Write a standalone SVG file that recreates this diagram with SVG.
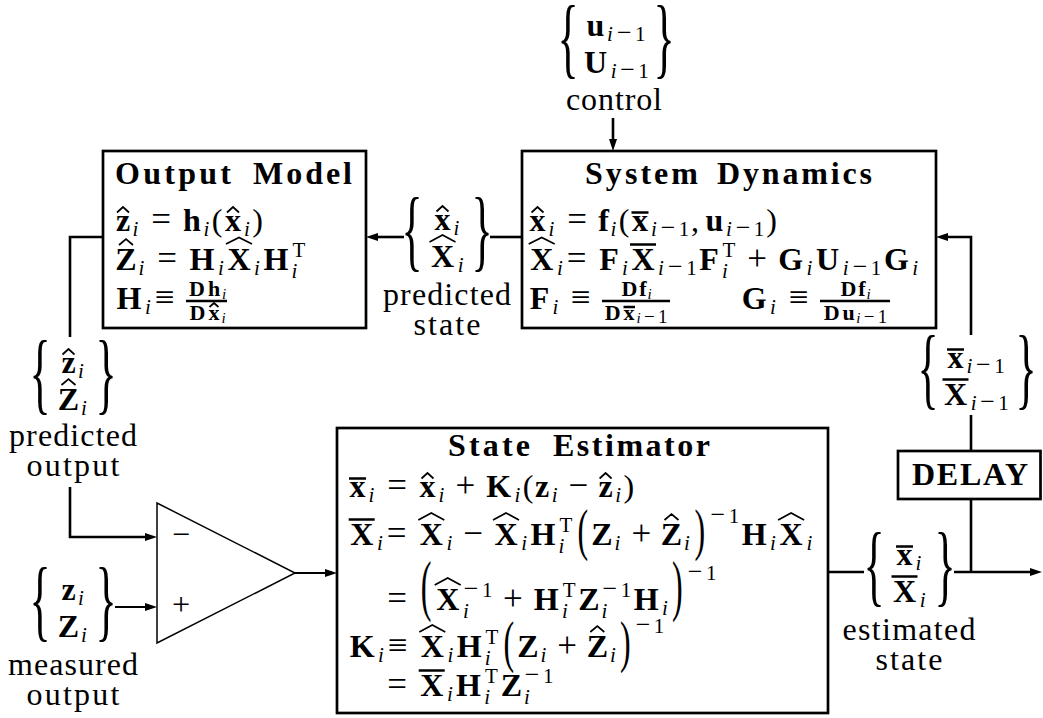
<svg xmlns="http://www.w3.org/2000/svg" width="1043" height="718" viewBox="0 0 1043 718" font-family="'Liberation Serif', 'DejaVu Serif', serif">
<defs>
<style>
.m,.s,.r,.rm,.o,.p,.fm,.fs,.fr,.t,.lb,.br{font-family:"Liberation Serif","DejaVu Serif","Times New Roman",serif;fill:#000}
.m{font-weight:bold;font-size:32px;text-anchor:middle}
.s{font-style:italic;font-size:21px;text-anchor:middle}
.r{font-size:21px;text-anchor:middle}
.rm{font-size:26px;text-anchor:middle}
.o{font-size:35px;text-anchor:middle}
.p{font-size:32px;text-anchor:middle}
.fm{font-weight:bold;font-size:22px;text-anchor:middle}
.fs{font-style:italic;font-size:15px;text-anchor:middle}
.fr{font-size:19px;text-anchor:middle}
.t{font-weight:bold;font-size:32px}
.lb{font-size:32px;text-anchor:middle}
.br{font-size:44px;text-anchor:middle}
.box{fill:none;stroke:#000;stroke-width:2.7}
.ln{fill:none;stroke:#000;stroke-width:2.6}
.thin{stroke-width:1.9}
.hat{fill:none;stroke:#000;stroke-width:1.7}
.bar{stroke:#000;stroke-width:2.5}
.fb{stroke:#000;stroke-width:2.3}
</style>
<marker id="ah" markerUnits="userSpaceOnUse" markerWidth="12" markerHeight="9" refX="6" refY="4.5" orient="auto">
<path d="M0,0.5 L12,4.5 L0,8.5 Z" fill="#000"/>
</marker>
</defs>
<rect width="1043" height="718" fill="#fff"/>

<!-- connectors -->
<g id="connectors">
<line class="ln" x1="613" y1="118" x2="613" y2="145" marker-end="url(#ah)"/>
<line class="ln" x1="522" y1="237" x2="490" y2="237"/>
<line class="ln" x1="404" y1="237" x2="372" y2="237" marker-end="url(#ah)"/>
<polyline class="ln" points="103,237 70,237 70,337"/>
<polyline class="ln" points="70,487 70,537 151,537" marker-end="url(#ah)"/>
<line class="ln thin" x1="115" y1="607" x2="151" y2="607" marker-end="url(#ah)"/>
<line class="ln thin" x1="295" y1="573" x2="331" y2="573" marker-end="url(#ah)"/>
<line class="ln" x1="828" y1="572" x2="864" y2="572"/>
<line class="ln" x1="954" y1="572" x2="1036" y2="572" marker-end="url(#ah)"/>
<line class="ln" x1="971" y1="572" x2="971" y2="499"/>
<line class="ln" x1="971" y1="451" x2="971" y2="415"/>
<polyline class="ln" points="971,335 971,237 942,237" marker-end="url(#ah)"/>
</g>

<!-- control input -->
<g id="control-input">
<text class="br" transform="translate(568,45) scale(1,2.0)" y="11.2">{</text>
<text class="br" transform="translate(664,45) scale(1,2.0)" y="11.2">}</text>
<text><tspan class="m" x="595.5" y="36">u</tspan><tspan class="s" x="610" y="41">i</tspan><tspan class="rm" x="624.3" y="41">−</tspan><tspan class="r" x="640.3" y="41">1</tspan></text>
<text><tspan class="m" x="595.5" y="73">U</tspan><tspan class="s" x="613.7" y="78">i</tspan><tspan class="rm" x="627.5" y="78">−</tspan><tspan class="r" x="643.5" y="78">1</tspan></text>
<text class="lb" x="614" y="110" textLength="96" lengthAdjust="spacing">control</text>
</g>

<!-- output model -->
<g id="output-model">
<rect class="box" x="103" y="151" width="263" height="177"/>
<text class="t" x="115" y="184" textLength="116" lengthAdjust="spacing">Output</text>
<text class="t" x="253" y="184" textLength="99" lengthAdjust="spacing">Model</text>
<text><tspan class="m" x="123" y="231">z</tspan><tspan class="s" x="135.5" y="236">i</tspan><tspan class="o" x="161" y="231">=</tspan><tspan class="m" x="192" y="231">h</tspan><tspan class="s" x="206.5" y="236">i</tspan><tspan class="p" x="217" y="231">(</tspan><tspan class="m" x="233" y="231">x</tspan><tspan class="s" x="247" y="236">i</tspan><tspan class="p" x="257.5" y="231">)</tspan></text>
<path class="hat" d="M117,212.5 L123,207 L129,212.5 M227,212.5 L233,207 L239,212.5"/>
<text><tspan class="m" x="126" y="270">Z</tspan><tspan class="s" x="141.5" y="275">i</tspan><tspan class="o" x="167" y="270">=</tspan><tspan class="m" x="202" y="270">H</tspan><tspan class="s" x="221" y="275">i</tspan><tspan class="m" x="239" y="270">X</tspan><tspan class="s" x="257" y="275">i</tspan><tspan class="m" x="276" y="270">H</tspan><tspan class="s" x="294.5" y="278">i</tspan><tspan class="r" x="299" y="257">T</tspan></text>
<path class="hat" d="M119,245 L126,239 L133,245 M226,244 L239,237.5 L252,244"/>
<text><tspan class="m" x="129" y="309">H</tspan><tspan class="s" x="148" y="314">i</tspan><tspan class="o" x="164.5" y="309">≡</tspan><tspan class="fm" x="197" y="296">D</tspan><tspan class="fm" x="214" y="296">h</tspan><tspan class="fs" x="224" y="299">i</tspan><tspan class="fm" x="197.5" y="320">D</tspan><tspan class="fm" x="214" y="320">x</tspan><tspan class="fs" x="223.5" y="323">i</tspan></text>
<line class="fb" x1="186" y1="301" x2="227" y2="301"/>
<path class="hat" d="M209.5,307 L214,303 L218.5,307"/>
</g>

<!-- system dynamics -->
<g id="system-dynamics">
<rect class="box" x="522" y="151" width="414" height="177"/>
<text class="t" x="585" y="184" textLength="113" lengthAdjust="spacing">System</text>
<text class="t" x="717" y="184" textLength="155" lengthAdjust="spacing">Dynamics</text>
<text><tspan class="m" x="537.5" y="231">x</tspan><tspan class="s" x="551.5" y="236">i</tspan><tspan class="o" x="577" y="231">=</tspan><tspan class="m" x="603.5" y="231">f</tspan><tspan class="s" x="613.5" y="236">i</tspan><tspan class="p" x="624" y="231">(</tspan><tspan class="m" x="640" y="231">x</tspan><tspan class="s" x="654" y="236">i</tspan><tspan class="rm" x="668" y="236">−</tspan><tspan class="r" x="684" y="236">1</tspan><tspan class="p" x="695" y="231">,</tspan><tspan class="m" x="714.5" y="231">u</tspan><tspan class="s" x="729" y="236">i</tspan><tspan class="rm" x="743" y="236">−</tspan><tspan class="r" x="759" y="236">1</tspan><tspan class="p" x="771.7" y="231">)</tspan></text>
<path class="hat" d="M531.5,212.5 L537.5,207 L543.5,212.5"/>
<line class="bar" x1="631.5" y1="212.5" x2="648.5" y2="212.5"/>
<text><tspan class="m" x="541.7" y="270">X</tspan><tspan class="s" x="560" y="275">i</tspan><tspan class="o" x="576.5" y="270">=</tspan><tspan class="m" x="609" y="270">F</tspan><tspan class="s" x="625" y="275">i</tspan><tspan class="m" x="643" y="270">X</tspan><tspan class="s" x="661" y="275">i</tspan><tspan class="rm" x="675.4" y="275">−</tspan><tspan class="r" x="691.4" y="275">1</tspan><tspan class="m" x="709" y="270">F</tspan><tspan class="s" x="725" y="278">i</tspan><tspan class="r" x="729" y="257">T</tspan><tspan class="o" x="757.2" y="270">+</tspan><tspan class="m" x="790.7" y="270">G</tspan><tspan class="s" x="809.4" y="275">i</tspan><tspan class="m" x="827.5" y="270">U</tspan><tspan class="s" x="845.7" y="275">i</tspan><tspan class="rm" x="860" y="275">−</tspan><tspan class="r" x="876" y="275">1</tspan><tspan class="m" x="896.5" y="270">G</tspan><tspan class="s" x="915.2" y="275">i</tspan></text>
<path class="hat" d="M528.7,244 L541.7,237.5 L554.7,244"/>
<line class="bar" x1="630" y1="244.5" x2="656" y2="244.5"/>
<text><tspan class="m" x="539.4" y="309">F</tspan><tspan class="s" x="555.3" y="314">i</tspan><tspan class="o" x="580.7" y="309">≡</tspan><tspan class="fm" x="629.4" y="296">D</tspan><tspan class="fm" x="642.9" y="296">f</tspan><tspan class="fs" x="649.6" y="299">i</tspan><tspan class="fm" x="612.7" y="320">D</tspan><tspan class="fm" x="629.1" y="320">x</tspan><tspan class="fs" x="638.6" y="323">i</tspan><tspan class="fr" x="649.4" y="323">−</tspan><tspan class="fr" x="662.8" y="323">1</tspan></text>
<line class="fb" x1="602" y1="301" x2="670" y2="301"/>
<line class="bar" x1="623.5" y1="307" x2="635" y2="307" stroke-width="1.8"/>
<text><tspan class="m" x="754.3" y="309">G</tspan><tspan class="s" x="773" y="314">i</tspan><tspan class="o" x="798.5" y="309">≡</tspan><tspan class="fm" x="848.4" y="296">D</tspan><tspan class="fm" x="861.9" y="296">f</tspan><tspan class="fs" x="868.6" y="299">i</tspan><tspan class="fm" x="831.7" y="320">D</tspan><tspan class="fm" x="848.5" y="320">u</tspan><tspan class="fs" x="858.3" y="323">i</tspan><tspan class="fr" x="869.1" y="323">−</tspan><tspan class="fr" x="882.5" y="323">1</tspan></text>
<line class="fb" x1="820" y1="301" x2="890" y2="301"/>
</g>

<!-- predicted state -->
<g id="predicted-state">
<text class="br" transform="translate(412,237) scale(1,2.05)" y="11.2">{</text>
<text class="br" transform="translate(482,237) scale(1,2.05)" y="11.2">}</text>
<text><tspan class="m" x="442.5" y="230">x</tspan><tspan class="s" x="456.5" y="235">i</tspan></text>
<text><tspan class="m" x="442.5" y="267">X</tspan><tspan class="s" x="460.7" y="272">i</tspan></text>
<path class="hat" d="M436.5,211.5 L442.5,206 L448.5,211.5 M429.5,242 L442.5,235 L455.5,242"/>
<text class="lb" x="447" y="305" textLength="128" lengthAdjust="spacing">predicted</text>
<text class="lb" x="447" y="335" textLength="67" lengthAdjust="spacing">state</text>
</g>

<!-- predicted output -->
<g id="predicted-output">
<text class="br" transform="translate(40,380) scale(1,2.05)" y="11.2">{</text>
<text class="br" transform="translate(106,380) scale(1,2.05)" y="11.2">}</text>
<text><tspan class="m" x="68.5" y="373">z</tspan><tspan class="s" x="81" y="378">i</tspan></text>
<text><tspan class="m" x="68.5" y="410">Z</tspan><tspan class="s" x="84" y="415">i</tspan></text>
<path class="hat" d="M62.5,354.5 L68.5,349 L74.5,354.5 M61.5,385 L68.5,379 L75.5,385"/>
<text class="lb" x="73" y="446" textLength="128" lengthAdjust="spacing">predicted</text>
<text class="lb" x="73" y="476" textLength="93" lengthAdjust="spacing">output</text>
</g>

<!-- measured output -->
<g id="measured-output">
<text class="br" transform="translate(40,607) scale(1,2.05)" y="11.2">{</text>
<text class="br" transform="translate(106,607) scale(1,2.05)" y="11.2">}</text>
<text><tspan class="m" x="68.5" y="600">z</tspan><tspan class="s" x="81" y="605">i</tspan></text>
<text><tspan class="m" x="68.5" y="637">Z</tspan><tspan class="s" x="84" y="642">i</tspan></text>
<text class="lb" x="73" y="675" textLength="130" lengthAdjust="spacing">measured</text>
<text class="lb" x="73" y="705" textLength="93" lengthAdjust="spacing">output</text>
</g>

<!-- comparator -->
<g id="comparator">
<polygon points="157,503 157,643 295,573" fill="none" stroke="#000" stroke-width="1.5"/>
<text class="lb" x="181" y="545">−</text>
<text class="lb" x="181" y="615">+</text>
</g>

<!-- state estimator -->
<g id="state-estimator">
<rect class="box" x="337" y="428" width="491" height="285"/>
<text class="t" x="448" y="456" textLength="82" lengthAdjust="spacing">State</text>
<text class="t" x="553" y="456" textLength="157" lengthAdjust="spacing">Estimator</text>
<text><tspan class="m" x="357.5" y="497">x</tspan><tspan class="s" x="371.5" y="502">i</tspan><tspan class="o" x="397" y="497">=</tspan><tspan class="m" x="427.5" y="497">x</tspan><tspan class="s" x="441.5" y="502">i</tspan><tspan class="o" x="465.3" y="497">+</tspan><tspan class="m" x="498.7" y="497">K</tspan><tspan class="s" x="517.3" y="502">i</tspan><tspan class="p" x="528" y="497">(</tspan><tspan class="m" x="542" y="497">z</tspan><tspan class="s" x="554.7" y="502">i</tspan><tspan class="o" x="578.4" y="497">−</tspan><tspan class="m" x="605.6" y="497">z</tspan><tspan class="s" x="618.2" y="502">i</tspan><tspan class="p" x="628.8" y="497">)</tspan></text>
<line class="bar" x1="349" y1="478.5" x2="366" y2="478.5"/>
<path class="hat" d="M421.5,478.5 L427.5,473 L433.5,478.5 M599.6,478.5 L605.6,473 L611.6,478.5"/>
<text><tspan class="m" x="361.7" y="545">X</tspan><tspan class="s" x="380" y="550">i</tspan><tspan class="o" x="396.5" y="545">=</tspan><tspan class="m" x="431.3" y="545">X</tspan><tspan class="s" x="449.4" y="550">i</tspan><tspan class="o" x="473.1" y="545">−</tspan><tspan class="m" x="506" y="545">X</tspan><tspan class="s" x="524.2" y="550">i</tspan><tspan class="m" x="542.9" y="545">H</tspan><tspan class="s" x="561.5" y="553">i</tspan><tspan class="r" x="565.8" y="532">T</tspan><tspan class="m" x="602" y="545">Z</tspan><tspan class="s" x="617.5" y="550">i</tspan><tspan class="o" x="641.3" y="545">+</tspan><tspan class="m" x="671.5" y="545">Z</tspan><tspan class="s" x="687" y="550">i</tspan><tspan class="rm" x="717.8" y="523">−</tspan><tspan class="r" x="733.9" y="523">1</tspan><tspan class="m" x="754.3" y="545">H</tspan><tspan class="s" x="773" y="550">i</tspan><tspan class="m" x="791.1" y="545">X</tspan><tspan class="s" x="809.3" y="550">i</tspan></text>
<text class="p" transform="translate(582.8,534) scale(1,1.8)" y="8.2">(</text>
<text class="p" transform="translate(699.8,534) scale(1,1.8)" y="8.2">)</text>
<line class="bar" x1="348.7" y1="519.5" x2="374.7" y2="519.5"/>
<path class="hat" d="M418.3,520 L431.3,513 L444.3,520 M493,520 L506,513 L519,520 M664.5,520 L671.5,514 L678.5,520 M778.1,520 L791.1,513 L804.1,520"/>
<text><tspan class="o" x="397" y="610">=</tspan><tspan class="m" x="447.7" y="610">X</tspan><tspan class="s" x="465.9" y="618">i</tspan><tspan class="rm" x="471.2" y="597">−</tspan><tspan class="r" x="487.3" y="597">1</tspan><tspan class="o" x="512.8" y="610">+</tspan><tspan class="m" x="546.2" y="610">H</tspan><tspan class="s" x="564.9" y="618">i</tspan><tspan class="r" x="569.2" y="597">T</tspan><tspan class="m" x="589" y="610">Z</tspan><tspan class="s" x="604.5" y="618">i</tspan><tspan class="rm" x="609.8" y="597">−</tspan><tspan class="r" x="625.9" y="597">1</tspan><tspan class="m" x="646.3" y="610">H</tspan><tspan class="s" x="665" y="615">i</tspan><tspan class="rm" x="695.2" y="580">−</tspan><tspan class="r" x="711.3" y="580">1</tspan></text>
<text class="p" transform="translate(426,591) scale(1,2.1)" y="8.2">(</text>
<text class="p" transform="translate(677.4,591) scale(1,2.1)" y="8.2">)</text>
<path class="hat" d="M434.7,585 L447.7,578 L460.7,585"/>
<text><tspan class="m" x="362.2" y="657">K</tspan><tspan class="s" x="380.9" y="662">i</tspan><tspan class="o" x="397.6" y="657">≡</tspan><tspan class="m" x="432.3" y="657">X</tspan><tspan class="s" x="450.4" y="662">i</tspan><tspan class="m" x="469.1" y="657">H</tspan><tspan class="s" x="487.7" y="665">i</tspan><tspan class="r" x="492" y="644">T</tspan><tspan class="m" x="527.8" y="657">Z</tspan><tspan class="s" x="543.3" y="662">i</tspan><tspan class="o" x="567" y="657">+</tspan><tspan class="m" x="597.3" y="657">Z</tspan><tspan class="s" x="612.8" y="662">i</tspan><tspan class="rm" x="643.1" y="633">−</tspan><tspan class="r" x="659.1" y="633">1</tspan></text>
<text class="p" transform="translate(508.8,646) scale(1,1.8)" y="8.2">(</text>
<text class="p" transform="translate(625.3,646) scale(1,1.8)" y="8.2">)</text>
<path class="hat" d="M419.3,632 L432.3,625 L445.3,632 M590.3,632 L597.3,626 L604.3,632"/>
<text><tspan class="o" x="397" y="696">=</tspan><tspan class="m" x="431.7" y="696">X</tspan><tspan class="s" x="449.9" y="701">i</tspan><tspan class="m" x="468.5" y="696">H</tspan><tspan class="s" x="487.2" y="704">i</tspan><tspan class="r" x="491.5" y="683">T</tspan><tspan class="m" x="511.3" y="696">Z</tspan><tspan class="s" x="526.8" y="704">i</tspan><tspan class="rm" x="532.1" y="683">−</tspan><tspan class="r" x="548.2" y="683">1</tspan></text>
<line class="bar" x1="418.7" y1="670.5" x2="444.7" y2="670.5"/>
</g>

<!-- previous estimate fed back through the delay -->
<g id="previous-estimate">
<text class="br" transform="translate(928,375) scale(1,2.05)" y="11.2">{</text>
<text class="br" transform="translate(1026,375) scale(1,2.05)" y="11.2">}</text>
<text><tspan class="m" x="955.5" y="368">x</tspan><tspan class="s" x="969.5" y="373">i</tspan><tspan class="rm" x="983.4" y="373">−</tspan><tspan class="r" x="999.4" y="373">1</tspan></text>
<text><tspan class="m" x="955.5" y="405">X</tspan><tspan class="s" x="973.7" y="410">i</tspan><tspan class="rm" x="987.5" y="410">−</tspan><tspan class="r" x="1003.5" y="410">1</tspan></text>
<line class="bar" x1="947" y1="349.5" x2="964" y2="349.5"/>
<line class="bar" x1="942.5" y1="379.5" x2="968.5" y2="379.5"/>
</g>

<g id="delay">
<rect class="box" x="898" y="451" width="142.5" height="48"/>
<text class="m" x="970" y="485" textLength="116" lengthAdjust="spacing">DELAY</text>
</g>

<!-- estimated state -->
<g id="estimated-state">
<text class="br" transform="translate(874,572) scale(1,2.05)" y="11.2">{</text>
<text class="br" transform="translate(945,572) scale(1,2.05)" y="11.2">}</text>
<text><tspan class="m" x="904.5" y="565">x</tspan><tspan class="s" x="918.5" y="570">i</tspan></text>
<text><tspan class="m" x="904.5" y="602">X</tspan><tspan class="s" x="922.7" y="607">i</tspan></text>
<line class="bar" x1="896" y1="546.5" x2="913" y2="546.5"/>
<line class="bar" x1="891.5" y1="576.5" x2="917.5" y2="576.5"/>
<text class="lb" x="909" y="640" textLength="133" lengthAdjust="spacing">estimated</text>
<text class="lb" x="909" y="670" textLength="67" lengthAdjust="spacing">state</text>
</g>
</svg>
